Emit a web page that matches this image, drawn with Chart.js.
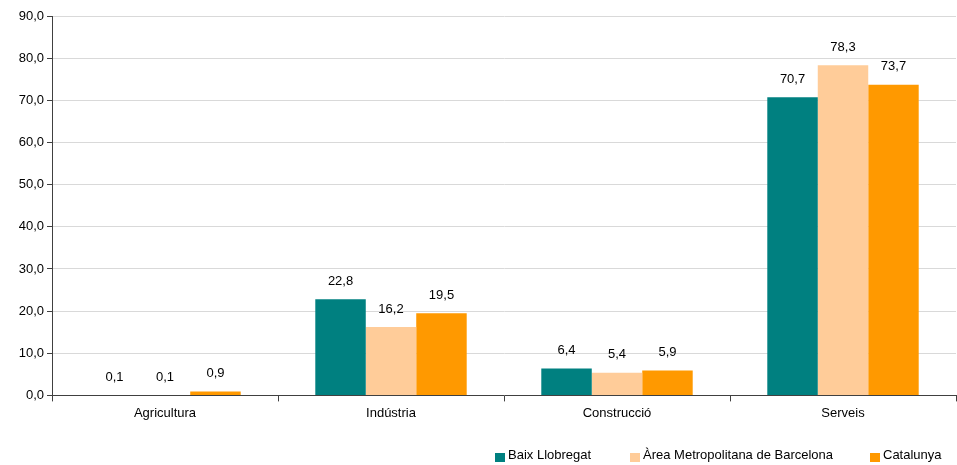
<!DOCTYPE html>
<html>
<head>
<meta charset="utf-8">
<script src="https://cdn.jsdelivr.net/npm/chart.js@4.4.0/dist/chart.umd.min.js"></script>
<style>
  html, body { margin: 0; padding: 0; background: #fff; }
  #wrap { width: 957px; height: 465px; }
</style>
</head>
<body>
<div id="wrap"><canvas id="grafic"></canvas></div>
<script>
const categories = ['Agricultura', 'Indústria', 'Construcció', 'Serveis'];
const baixLlobregat = [0.1, 22.8, 6.4, 70.7];
const areaMetropolitana = [0.1, 16.2, 5.4, 78.3];
const catalunya = [0.9, 19.5, 5.9, 73.7];
const seriesNames = ['Baix Llobregat', 'Àrea Metropolitana de Barcelona', 'Catalunya'];
const yTicks = [0, 10, 20, 30, 40, 50, 60, 70, 80, 90];

const FONT = '"Liberation Sans", Arial, sans-serif';
const fmt = v => v.toFixed(1).replace('.', ',');

const etiquetes = {
    id: 'etiquetes',
    afterDatasetsDraw(chart) {
        const ctx = chart.ctx;
        ctx.save();
        ctx.font = '13px ' + FONT;
        ctx.fillStyle = '#000';
        ctx.textAlign = 'center';
        ctx.textBaseline = 'middle';
        chart.data.datasets.forEach((ds, i) => {
            chart.getDatasetMeta(i).data.forEach((bar, j) => {
                ctx.fillText(fmt(ds.data[j]), bar.x, bar.y - 18);
            });
        });
        ctx.restore();
    }
};

// llegenda dibuixada a mà per tenir els espais com a l'original
const llegenda = {
    id: 'llegenda',
    afterDraw(chart) {
        const ctx = chart.ctx;
        const xs = [495, 630, 870];
        const y = 455;
        ctx.save();
        ctx.font = '13px ' + FONT;
        ctx.textBaseline = 'middle';
        ctx.textAlign = 'left';
        chart.data.datasets.forEach((ds, i) => {
            ctx.fillStyle = ds.backgroundColor;
            ctx.fillRect(xs[i], y - 2, 10, 9);
            ctx.fillStyle = '#000';
            ctx.fillText(ds.label, xs[i] + 13, y);
        });
        ctx.restore();
    }
};

new Chart(document.getElementById('grafic'), {
    type: 'bar',
    data: {
        labels: categories,
        datasets: [
            { label: seriesNames[0], data: baixLlobregat, backgroundColor: '#008080' },
            { label: seriesNames[1], data: areaMetropolitana, backgroundColor: '#FFCC99' },
            { label: seriesNames[2], data: catalunya, backgroundColor: '#FF9900' }
        ]
    },
    options: {
        responsive: true,
        maintainAspectRatio: false,
        animation: false,
        layout: { padding: { top: 16, right: 1, left: 0, bottom: 40 } },
        datasets: { bar: { categoryPercentage: 0.67, barPercentage: 1 } },
        scales: {
            x: {
                grid: { display: true, offset: true, drawOnChartArea: false, tickLength: 6, color: '#404040' },
                border: { color: '#404040' },
                ticks: { color: '#000', font: { size: 13, family: FONT }, padding: 4 }
            },
            y: {
                min: 0,
                max: 90,
                afterBuildTicks: axis => { axis.ticks = yTicks.map(v => ({ value: v })); },
                afterFit: axis => { axis.width = 52; },
                grid: { color: '#d9d9d9', tickLength: 5, tickColor: '#404040' },
                border: { color: '#404040' },
                ticks: {
                    color: '#000',
                    font: { size: 13, family: FONT },
                    padding: 3,
                    callback: v => fmt(v)
                }
            }
        },
        plugins: {
            tooltip: { enabled: false },
            legend: { display: false }
        }
    },
    plugins: [etiquetes, llegenda]
});
</script>
</body>
</html>
